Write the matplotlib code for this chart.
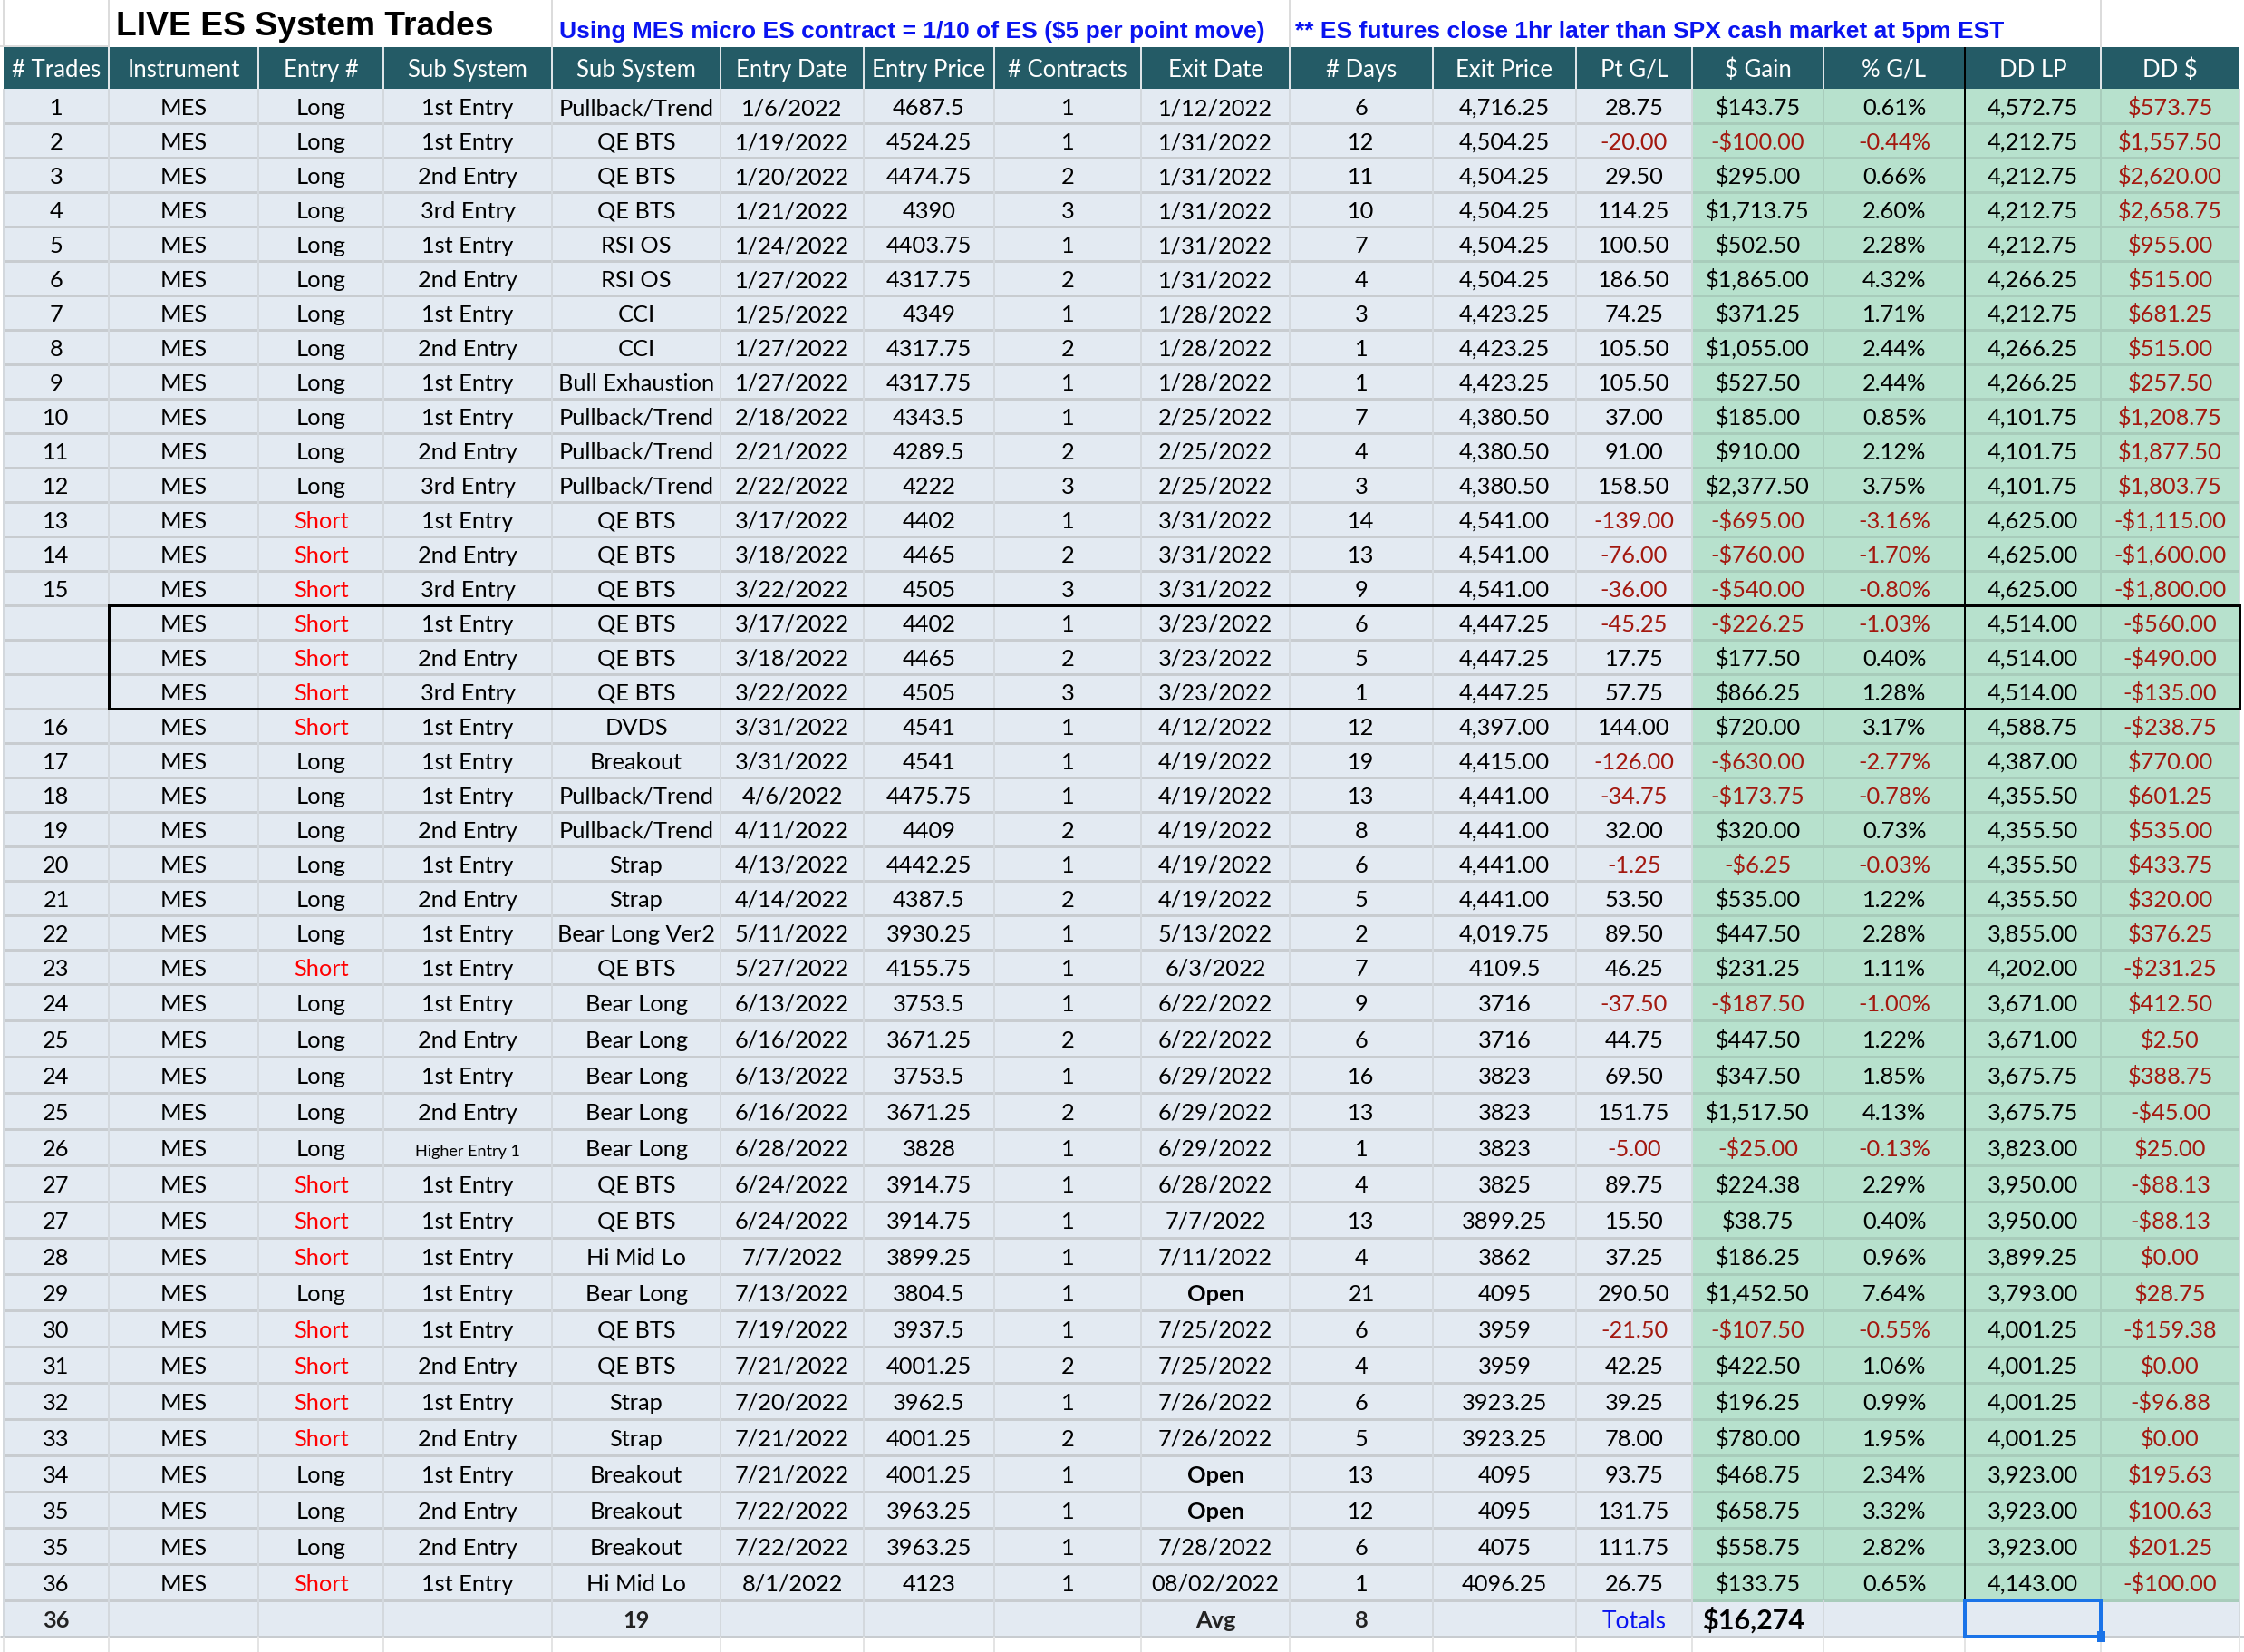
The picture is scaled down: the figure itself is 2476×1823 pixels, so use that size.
import matplotlib
matplotlib.use("Agg")
import matplotlib.pyplot as plt
from matplotlib.patches import Rectangle

# ---- sheet contents ----
title = "LIVE ES System Trades"
note_1 = "Using MES micro ES contract = 1/10 of ES ($5 per point move)"
note_2 = "** ES futures close 1hr later than SPX cash market at 5pm EST"

headers = ["# Trades", "Instrument", "Entry #", "Sub System", "Sub System", "Entry Date",
           "Entry Price", "# Contracts", "Exit Date", "# Days", "Exit Price", "Pt G/L",
           "$ Gain", "% G/L", "DD LP", "DD $"]

trade_no = ["1", "2", "3", "4", "5", "6", "7", "8", "9", "10", "11", "12", "13", "14", "15",
            "", "", "",
            "16", "17", "18", "19", "20", "21", "22", "23", "24", "25", "24", "25", "26", "27",
            "27", "28", "29", "30", "31", "32", "33", "34", "35", "35", "36"]
side = (["Long"] * 12 + ["Short"] * 6 + ["Short", "Long", "Long", "Long", "Long", "Long", "Long",
        "Short", "Long", "Long", "Long", "Long", "Long", "Short", "Short", "Short", "Long",
        "Short", "Short", "Short", "Short", "Long", "Long", "Long", "Short"])
entry_no = ["1st Entry", "1st Entry", "2nd Entry", "3rd Entry", "1st Entry", "2nd Entry",
            "1st Entry", "2nd Entry", "1st Entry", "1st Entry", "2nd Entry", "3rd Entry",
            "1st Entry", "2nd Entry", "3rd Entry", "1st Entry", "2nd Entry", "3rd Entry",
            "1st Entry", "1st Entry", "1st Entry", "2nd Entry", "1st Entry", "2nd Entry",
            "1st Entry", "1st Entry", "1st Entry", "2nd Entry", "1st Entry", "2nd Entry",
            "Higher Entry 1", "1st Entry", "1st Entry", "1st Entry", "1st Entry", "1st Entry",
            "2nd Entry", "1st Entry", "2nd Entry", "1st Entry", "2nd Entry", "2nd Entry",
            "1st Entry"]
sub_system = ["Pullback/Trend", "QE BTS", "QE BTS", "QE BTS", "RSI OS", "RSI OS", "CCI", "CCI",
              "Bull Exhaustion", "Pullback/Trend", "Pullback/Trend", "Pullback/Trend",
              "QE BTS", "QE BTS", "QE BTS", "QE BTS", "QE BTS", "QE BTS",
              "DVDS", "Breakout", "Pullback/Trend", "Pullback/Trend", "Strap", "Strap",
              "Bear Long Ver2", "QE BTS", "Bear Long", "Bear Long", "Bear Long", "Bear Long",
              "Bear Long", "QE BTS", "QE BTS", "Hi Mid Lo", "Bear Long", "QE BTS", "QE BTS",
              "Strap", "Strap", "Breakout", "Breakout", "Breakout", "Hi Mid Lo"]
entry_date = ["1/6/2022", "1/19/2022", "1/20/2022", "1/21/2022", "1/24/2022", "1/27/2022",
              "1/25/2022", "1/27/2022", "1/27/2022", "2/18/2022", "2/21/2022", "2/22/2022",
              "3/17/2022", "3/18/2022", "3/22/2022", "3/17/2022", "3/18/2022", "3/22/2022",
              "3/31/2022", "3/31/2022", "4/6/2022", "4/11/2022", "4/13/2022", "4/14/2022",
              "5/11/2022", "5/27/2022", "6/13/2022", "6/16/2022", "6/13/2022", "6/16/2022",
              "6/28/2022", "6/24/2022", "6/24/2022", "7/7/2022", "7/13/2022", "7/19/2022",
              "7/21/2022", "7/20/2022", "7/21/2022", "7/21/2022", "7/22/2022", "7/22/2022",
              "8/1/2022"]
entry_price = ["4687.5", "4524.25", "4474.75", "4390", "4403.75", "4317.75", "4349", "4317.75",
               "4317.75", "4343.5", "4289.5", "4222", "4402", "4465", "4505", "4402", "4465",
               "4505", "4541", "4541", "4475.75", "4409", "4442.25", "4387.5", "3930.25",
               "4155.75", "3753.5", "3671.25", "3753.5", "3671.25", "3828", "3914.75",
               "3914.75", "3899.25", "3804.5", "3937.5", "4001.25", "3962.5", "4001.25",
               "4001.25", "3963.25", "3963.25", "4123"]
contracts = ["1", "1", "2", "3", "1", "2", "1", "2", "1", "1", "2", "3", "1", "2", "3", "1",
             "2", "3", "1", "1", "1", "2", "1", "2", "1", "1", "1", "2", "1", "2", "1", "1",
             "1", "1", "1", "1", "2", "1", "2", "1", "1", "1", "1"]
exit_date = ["1/12/2022", "1/31/2022", "1/31/2022", "1/31/2022", "1/31/2022", "1/31/2022",
             "1/28/2022", "1/28/2022", "1/28/2022", "2/25/2022", "2/25/2022", "2/25/2022",
             "3/31/2022", "3/31/2022", "3/31/2022", "3/23/2022", "3/23/2022", "3/23/2022",
             "4/12/2022", "4/19/2022", "4/19/2022", "4/19/2022", "4/19/2022", "4/19/2022",
             "5/13/2022", "6/3/2022", "6/22/2022", "6/22/2022", "6/29/2022", "6/29/2022",
             "6/29/2022", "6/28/2022", "7/7/2022", "7/11/2022", "Open", "7/25/2022",
             "7/25/2022", "7/26/2022", "7/26/2022", "Open", "Open", "7/28/2022", "08/02/2022"]
days = ["6", "12", "11", "10", "7", "4", "3", "1", "1", "7", "4", "3", "14", "13", "9", "6",
        "5", "1", "12", "19", "13", "8", "6", "5", "2", "7", "9", "6", "16", "13", "1", "4",
        "13", "4", "21", "6", "4", "6", "5", "13", "12", "6", "1"]
exit_price = ["4,716.25", "4,504.25", "4,504.25", "4,504.25", "4,504.25", "4,504.25",
              "4,423.25", "4,423.25", "4,423.25", "4,380.50", "4,380.50", "4,380.50",
              "4,541.00", "4,541.00", "4,541.00", "4,447.25", "4,447.25", "4,447.25",
              "4,397.00", "4,415.00", "4,441.00", "4,441.00", "4,441.00", "4,441.00",
              "4,019.75", "4109.5", "3716", "3716", "3823", "3823", "3823", "3825", "3899.25",
              "3862", "4095", "3959", "3959", "3923.25", "3923.25", "4095", "4095", "4075",
              "4096.25"]
pt_gl = ["28.75", "-20.00", "29.50", "114.25", "100.50", "186.50", "74.25", "105.50", "105.50",
         "37.00", "91.00", "158.50", "-139.00", "-76.00", "-36.00", "-45.25", "17.75", "57.75",
         "144.00", "-126.00", "-34.75", "32.00", "-1.25", "53.50", "89.50", "46.25", "-37.50",
         "44.75", "69.50", "151.75", "-5.00", "89.75", "15.50", "37.25", "290.50", "-21.50",
         "42.25", "39.25", "78.00", "93.75", "131.75", "111.75", "26.75"]
gain = ["$143.75", "-$100.00", "$295.00", "$1,713.75", "$502.50", "$1,865.00", "$371.25",
        "$1,055.00", "$527.50", "$185.00", "$910.00", "$2,377.50", "-$695.00", "-$760.00",
        "-$540.00", "-$226.25", "$177.50", "$866.25", "$720.00", "-$630.00", "-$173.75",
        "$320.00", "-$6.25", "$535.00", "$447.50", "$231.25", "-$187.50", "$447.50",
        "$347.50", "$1,517.50", "-$25.00", "$224.38", "$38.75", "$186.25", "$1,452.50",
        "-$107.50", "$422.50", "$196.25", "$780.00", "$468.75", "$658.75", "$558.75",
        "$133.75"]
pct_gl = ["0.61%", "-0.44%", "0.66%", "2.60%", "2.28%", "4.32%", "1.71%", "2.44%", "2.44%",
          "0.85%", "2.12%", "3.75%", "-3.16%", "-1.70%", "-0.80%", "-1.03%", "0.40%", "1.28%",
          "3.17%", "-2.77%", "-0.78%", "0.73%", "-0.03%", "1.22%", "2.28%", "1.11%", "-1.00%",
          "1.22%", "1.85%", "4.13%", "-0.13%", "2.29%", "0.40%", "0.96%", "7.64%", "-0.55%",
          "1.06%", "0.99%", "1.95%", "2.34%", "3.32%", "2.82%", "0.65%"]
dd_lp = ["4,572.75", "4,212.75", "4,212.75", "4,212.75", "4,212.75", "4,266.25", "4,212.75",
         "4,266.25", "4,266.25", "4,101.75", "4,101.75", "4,101.75", "4,625.00", "4,625.00",
         "4,625.00", "4,514.00", "4,514.00", "4,514.00", "4,588.75", "4,387.00", "4,355.50",
         "4,355.50", "4,355.50", "4,355.50", "3,855.00", "4,202.00", "3,671.00", "3,671.00",
         "3,675.75", "3,675.75", "3,823.00", "3,950.00", "3,950.00", "3,899.25", "3,793.00",
         "4,001.25", "4,001.25", "4,001.25", "4,001.25", "3,923.00", "3,923.00", "3,923.00",
         "4,143.00"]
dd_usd = ["$573.75", "$1,557.50", "$2,620.00", "$2,658.75", "$955.00", "$515.00", "$681.25",
          "$515.00", "$257.50", "$1,208.75", "$1,877.50", "$1,803.75", "-$1,115.00",
          "-$1,600.00", "-$1,800.00", "-$560.00", "-$490.00", "-$135.00", "-$238.75",
          "$770.00", "$601.25", "$535.00", "$433.75", "$320.00", "$376.25", "-$231.25",
          "$412.50", "$2.50", "$388.75", "-$45.00", "$25.00", "-$88.13", "-$88.13", "$0.00",
          "$28.75", "-$159.38", "$0.00", "-$96.88", "$0.00", "$195.63", "$100.63", "$201.25",
          "-$100.00"]

instrument = ["MES"] * len(trade_no)
totals = {0: "36", 4: "19", 8: "Avg", 9: "8", 11: "Totals", 12: "$16,274"}

columns = [trade_no, instrument, side, entry_no, sub_system, entry_date, entry_price,
           contracts, exit_date, days, exit_price, pt_gl, gain, pct_gl, dd_lp, dd_usd]

# ---- sheet geometry (pixels) ----
col_x = [4, 120, 285, 423, 609, 795, 953, 1097, 1259, 1423, 1581, 1739, 1867, 2012, 2168,
         2318, 2471]
header_top, header_bot = 53, 99
row_h = [38] * 26 + [40] * 17
green_cols = [12, 13, 14, 15]
boxed_rows = [15, 16, 17]

HEAD_BG = "#245b66"
CELL_BG = "#e3eaf2"
GREEN_BG = "#b7e1cd"
DARK_RED = "#a3180f"
CELL_FONT = ["Lato", "DejaVu Sans"]
TITLE_FONT = ["Liberation Sans", "DejaVu Sans"]
PX = 0.72  # points per pixel at dpi 100

W, H = 2476, 1824
fig = plt.figure(figsize=(W / 100, H / 100), dpi=100)
ax = fig.add_axes([0, 0, 1, 1])
ax.set_xlim(0, W)
ax.set_ylim(H, 0)
ax.axis("off")

row_top = [header_bot]
for h in row_h:
    row_top.append(row_top[-1] + h)
tot_top = row_top[-1]
tot_bot = tot_top + 40

# title row
for x in [4, 120, 609, 1423, 2318]:
    ax.vlines(x, 0, header_top, color="#dcdcdc", lw=2 * PX)
ax.hlines(header_top - 1, 0, 120, color="#dcdcdc", lw=2 * PX)
ax.text(128, 39, title, fontsize=26.8, fontweight="bold", family=TITLE_FONT, color="black")
ax.text(617, 42, note_1, fontsize=19, fontweight="bold", family=TITLE_FONT, color="#0a14f0")
ax.text(1429, 42, note_2, fontsize=19, fontweight="bold", family=TITLE_FONT, color="#0a14f0")

# header row
ax.add_patch(Rectangle((col_x[0], header_top), col_x[-1] - col_x[0], header_bot - header_top,
                       color=HEAD_BG, lw=0))
for x in col_x[1:-1]:
    ax.vlines(x, header_top, header_bot, color="#dfe5e8", lw=2 * PX)
for c, name in enumerate(headers):
    xc = (col_x[c] + col_x[c + 1]) / 2
    ax.text(xc, (header_top + header_bot) / 2 + 9, name, ha="center", va="baseline",
            fontsize=18.5, family=CELL_FONT, color="white")

# cell backgrounds
for c in range(len(columns)):
    bg = GREEN_BG if c in green_cols else CELL_BG
    ax.add_patch(Rectangle((col_x[c], header_bot), col_x[c + 1] - col_x[c], tot_top - header_bot,
                           color=bg, lw=0))
ax.add_patch(Rectangle((col_x[0], tot_top), col_x[-1] - col_x[0], tot_bot - tot_top,
                       color=CELL_BG, lw=0))

# grid lines
for c in range(len(columns)):
    line = "#a8ccbb" if c in green_cols else "#c8ccd0"
    for y in row_top[1:]:
        ax.hlines(y, col_x[c], col_x[c + 1], color=line, lw=3 * PX)
ax.hlines(tot_bot, 0, W, color="#c8ccd0", lw=3 * PX)
for c, x in enumerate(col_x):
    v_line = "#a8ccbb" if c in green_cols[1:] else "#d3d8dd"
    ax.vlines(x, header_bot, tot_top, color=v_line, lw=2 * PX)
    ax.vlines(x, tot_top, tot_bot, color="#d3d8dd", lw=2 * PX)
    ax.vlines(x, tot_bot, H, color="#e4e4e4", lw=2 * PX)
ax.vlines(col_x[14], header_top, tot_top, color="black", lw=2 * PX)

# cell text
for r in range(len(trade_no)):
    yb = (row_top[r] + row_top[r + 1]) / 2 + 9
    for c, col in enumerate(columns):
        val = col[r]
        xc = (col_x[c] + col_x[c + 1]) / 2
        color, weight, size = "black", "normal", 18.3
        if c == 2 and val == "Short":
            color = "#ff0000"
        if c in (11, 12, 13) and val.startswith("-"):
            color = DARK_RED
        if c == 15:
            color = DARK_RED
        if c == 8 and val == "Open":
            weight = "bold"
        if val == "Higher Entry 1":
            size = 13
        ax.text(xc, yb, val, ha="center", va="baseline", fontsize=size, fontweight=weight,
                family=CELL_FONT, color=color)

# totals row
yb = (tot_top + tot_bot) / 2 + 9
for c, val in totals.items():
    xc = (col_x[c] + col_x[c + 1]) / 2
    if c == 11:
        ax.text(xc, yb + 1, val, ha="center", va="baseline", fontsize=19, family=CELL_FONT,
                color="#0a14f0")
    elif c == 12:
        ax.text(xc - 5, yb + 2, val, ha="center", va="baseline", fontsize=22, fontweight="bold",
                family=CELL_FONT, color="black")
    else:
        ax.text(xc, yb, val, ha="center", va="baseline", fontsize=18.3, fontweight="bold",
                family=CELL_FONT, color="#222222")

# boxed block of re-entries
ax.add_patch(Rectangle((col_x[1], row_top[boxed_rows[0]]), col_x[-1] - col_x[1],
                       row_top[boxed_rows[-1] + 1] - row_top[boxed_rows[0]],
                       fill=False, ec="black", lw=3 * PX, zorder=5))

# selected cell in the totals row
ax.add_patch(Rectangle((col_x[14], tot_top), col_x[15] - col_x[14], tot_bot - tot_top,
                       fill=False, ec="#1a73e8", lw=4 * PX, zorder=6))
ax.add_patch(Rectangle((col_x[15] - 4, tot_bot - 6), 9, 12, color="#1a73e8", lw=0, zorder=7))

fig.savefig("out.png", dpi=100)
